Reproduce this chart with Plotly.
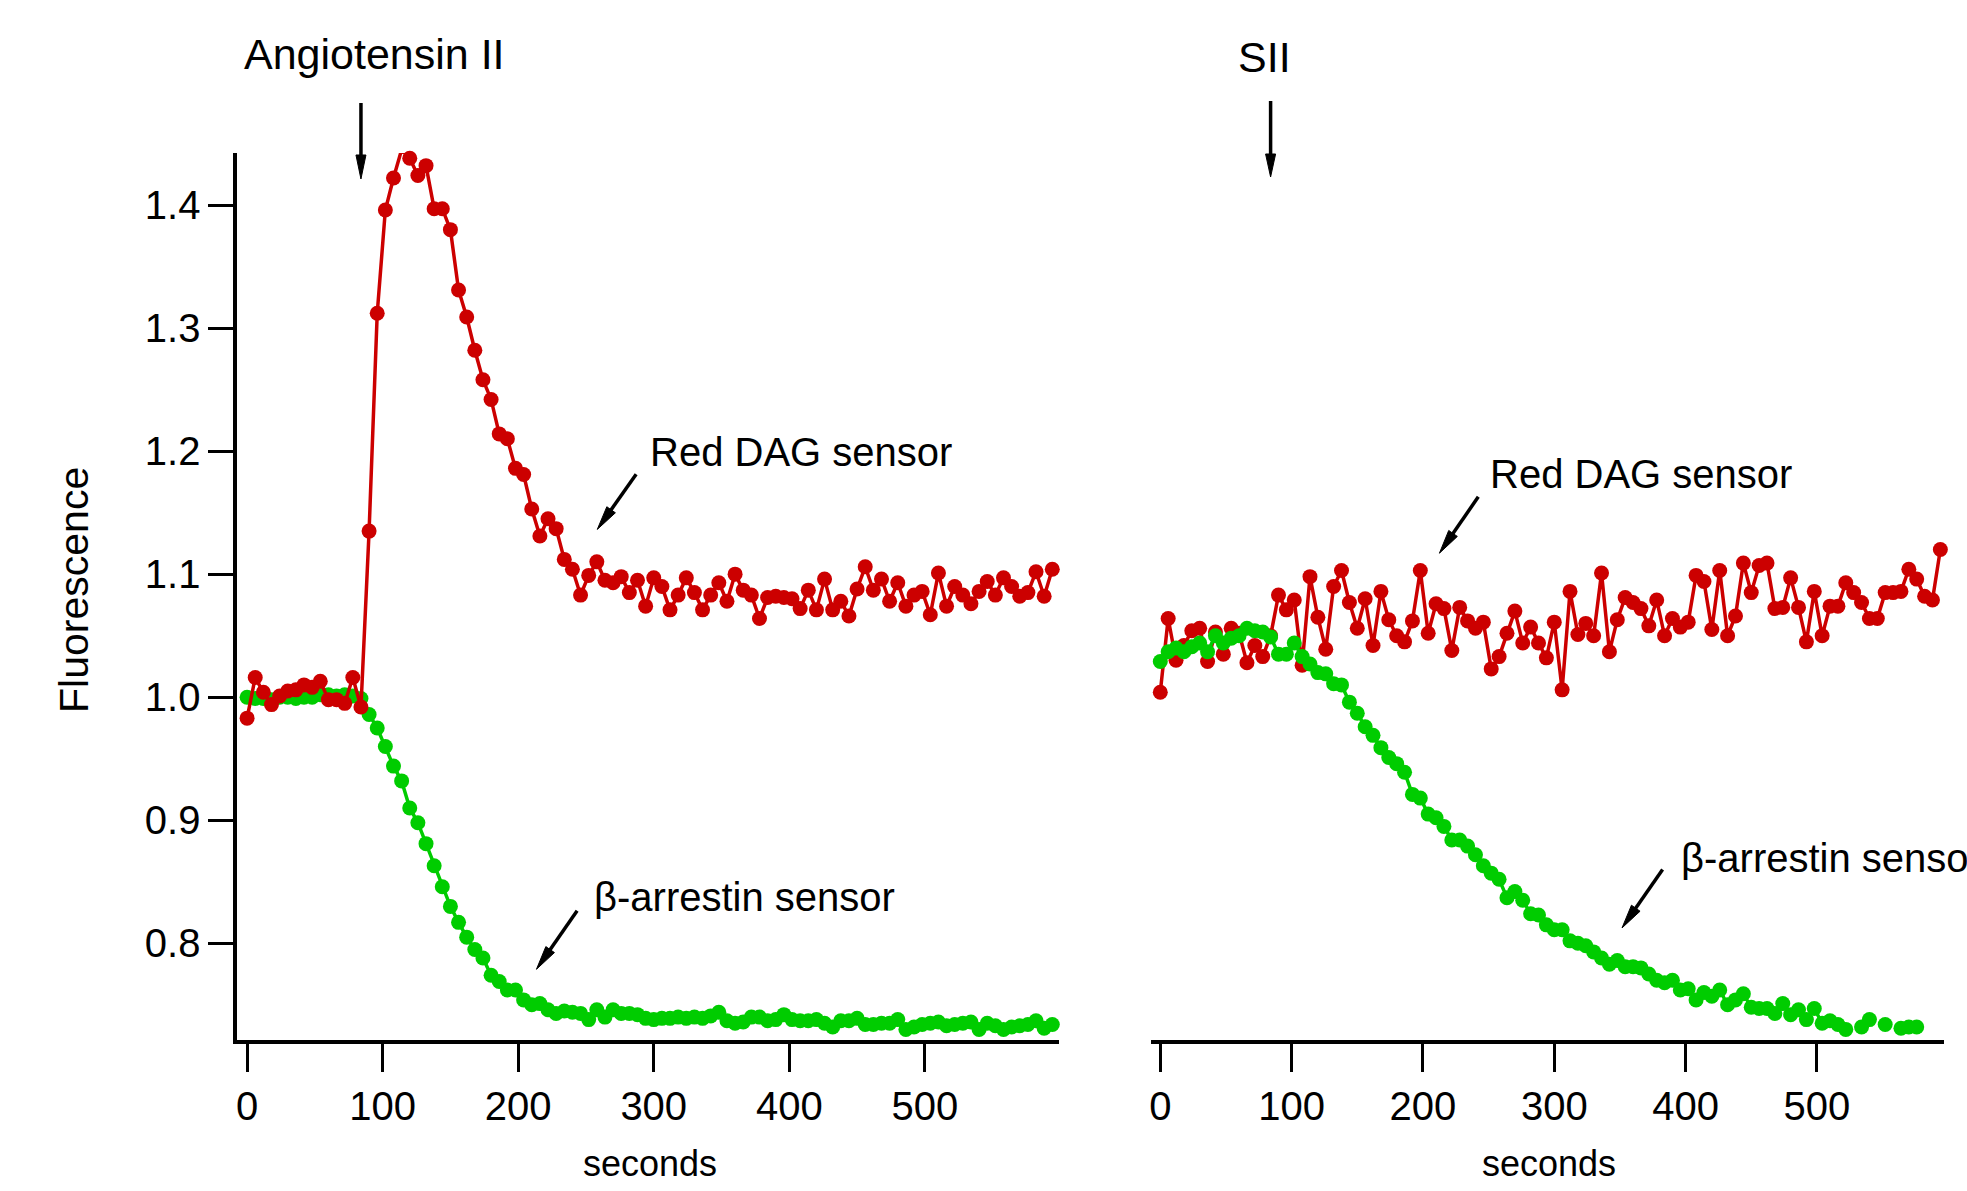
import math
import plotly.graph_objects as go

W, H = 1967, 1191

# Sampling grid: one reading every 6 s
seconds = list(range(0, 600, 6))

# Angiotensin II stimulation
ang_dag = [
    0.983, 1.016, 1.004, 0.994, 1.001, 1.005, 1.006, 1.010, 1.008, 1.013,
    0.998, 0.998, 0.995, 1.016, 0.992, 1.135, 1.312, 1.396, 1.422, 1.445,
    1.438, 1.424, 1.432, 1.397, 1.397, 1.380, 1.331, 1.309, 1.282, 1.258,
    1.242, 1.214, 1.210, 1.186, 1.181, 1.153, 1.131, 1.145, 1.137, 1.112,
    1.104, 1.083, 1.099, 1.110, 1.095, 1.093, 1.098, 1.085, 1.095, 1.074,
    1.097, 1.090, 1.071, 1.083, 1.097, 1.085, 1.071, 1.083, 1.093, 1.078,
    1.100, 1.087, 1.083, 1.064, 1.081, 1.082, 1.081, 1.080, 1.072, 1.087,
    1.071, 1.096, 1.071, 1.078, 1.066, 1.088, 1.106, 1.087, 1.096, 1.078,
    1.093, 1.074, 1.083, 1.086, 1.067, 1.101, 1.074, 1.090, 1.083, 1.076,
    1.086, 1.094, 1.083, 1.097, 1.090, 1.082, 1.085, 1.102, 1.082, 1.104,
]
ang_arrestin = [
    1.000, 0.999, 0.999, 0.998, 1.000, 1.000, 0.999, 1.000, 1.000, 1.002,
    1.002, 1.001, 1.002, 1.001, 0.999, 0.986, 0.975, 0.960, 0.944, 0.932,
    0.910, 0.898, 0.881, 0.863, 0.846, 0.830, 0.817, 0.805, 0.795, 0.788,
    0.774, 0.769, 0.762, 0.762, 0.754, 0.750, 0.751, 0.746, 0.743, 0.745,
    0.744, 0.743, 0.738, 0.746, 0.740, 0.746, 0.743, 0.743, 0.742, 0.739,
    0.738, 0.739, 0.739, 0.740, 0.739, 0.740, 0.739, 0.741, 0.744, 0.737,
    0.735, 0.736, 0.740, 0.740, 0.737, 0.738, 0.742, 0.738, 0.737, 0.737,
    0.738, 0.735, 0.732, 0.737, 0.737, 0.739, 0.734, 0.734, 0.735, 0.735,
    0.738, 0.730, 0.732, 0.734, 0.735, 0.736, 0.733, 0.734, 0.735, 0.736,
    0.730, 0.735, 0.733, 0.730, 0.732, 0.733, 0.734, 0.737, 0.731, 0.734,
]

# SII stimulation
sii_dag = [
    1.004, 1.064, 1.030, 1.042, 1.054, 1.056, 1.029, 1.053, 1.035, 1.056,
    1.052, 1.028, 1.042, 1.033, 1.050, 1.083, 1.071, 1.079, 1.026, 1.098,
    1.065, 1.039, 1.090, 1.103, 1.077, 1.056, 1.080, 1.042, 1.086, 1.063,
    1.050, 1.045, 1.062, 1.103, 1.052, 1.076, 1.072, 1.038, 1.073, 1.062,
    1.056, 1.061, 1.023, 1.033, 1.052, 1.070, 1.044, 1.057, 1.044, 1.032,
    1.061, 1.006, 1.086, 1.051, 1.060, 1.050, 1.101, 1.037, 1.063, 1.081,
    1.077, 1.072, 1.058, 1.079, 1.050, 1.064, 1.057, 1.061, 1.099, 1.094,
    1.055, 1.103, 1.050, 1.066, 1.109, 1.085, 1.107, 1.109, 1.072, 1.073,
    1.097, 1.073, 1.045, 1.086, 1.050, 1.074, 1.074, 1.093, 1.085, 1.077,
    1.064, 1.064, 1.085, 1.085, 1.086, 1.104, 1.096, 1.082, 1.079, 1.120,
]
# missing readings are left as None
sii_arrestin = [
    1.029, 1.037, 1.040, 1.037, 1.041, 1.044, 1.037, 1.050, 1.044, 1.048,
    1.050, 1.056, 1.054, 1.053, 1.049, 1.035, 1.035, 1.044, 1.033, 1.027,
    1.020, 1.019, 1.011, 1.010, 0.996, 0.987, 0.976, 0.969, 0.959, 0.951,
    0.946, 0.939, 0.921, 0.918, 0.905, 0.902, 0.895, 0.884, 0.884, 0.879,
    0.872, 0.863, 0.857, 0.852, 0.837, 0.842, 0.835, 0.824, 0.823, 0.815,
    0.811, 0.811, 0.802, 0.800, 0.798, 0.793, 0.788, 0.783, 0.786, 0.781,
    0.781, 0.780, 0.775, 0.770, 0.768, 0.770, 0.762, 0.763, 0.754, 0.760,
    0.757, 0.762, 0.750, 0.754, 0.759, 0.748, 0.747, 0.747, 0.743, 0.751,
    0.742, 0.746, 0.738, 0.747, 0.735, 0.737, 0.734, 0.730, None, 0.732,
    0.738, None, 0.734, None, 0.731, 0.732, 0.732,
]
sii_arrestin_seconds = seconds[:len(sii_arrestin)]

stimulus_time = 84

x_tick_vals = [0, 100, 200, 300, 400, 500]
y_tick_vals = [0.8, 0.9, 1.0, 1.1, 1.2, 1.3, 1.4]
y_tick_text = ["0.8", "0.9", "1.0", "1.1", "1.2", "1.3", "1.4"]

RED = "#cc0000"
GREEN = "#00cc00"
FONT = "Liberation Sans, Arial, Helvetica, sans-serif"

# panel geometry
X1_DOMAIN = [235.7 / W, 1057.6 / W]
X2_DOMAIN = [1150 / W, 1944 / W]
Y_DOMAIN = [(H - 1040) / H, (H - 153) / H]
X1_RANGE = [-7.1, 598.6]
X2_RANGE = [-7.2, 596.8]
Y_RANGE = [0.7214, 1.4423]


def series(x, y, color, xaxis):
    return go.Scatter(
        x=x, y=y, mode="lines+markers", xaxis=xaxis, yaxis="y",
        line=dict(color=color, width=3.5),
        marker=dict(color=color, size=15),
        cliponaxis=False, showlegend=False, hoverinfo="x+y",
    )


fig = go.Figure()
fig.add_trace(series(seconds, ang_arrestin, GREEN, "x"))
fig.add_trace(series(seconds, ang_dag, RED, "x"))
fig.add_trace(series(seconds, sii_dag, RED, "x2"))
fig.add_trace(series(sii_arrestin_seconds, sii_arrestin, GREEN, "x2"))

axis_common = dict(
    showgrid=False, zeroline=False,
    showline=True, linecolor="black", linewidth=4,
    ticks="outside", ticklen=28, tickwidth=3, tickcolor="black",
    tickvals=x_tick_vals,
    tickfont=dict(family=FONT, size=40, color="black"),
)

fig.update_layout(
    width=W, height=H,
    margin=dict(l=0, r=0, t=0, b=0),
    paper_bgcolor="white", plot_bgcolor="white",
    xaxis=dict(domain=X1_DOMAIN, range=X1_RANGE, anchor="y", **axis_common),
    xaxis2=dict(domain=X2_DOMAIN, range=X2_RANGE, anchor="y", **axis_common),
    yaxis=dict(
        domain=Y_DOMAIN, range=Y_RANGE, anchor="x",
        showgrid=False, zeroline=False,
        showline=True, linecolor="black", linewidth=4,
        ticks="outside", ticklen=25, tickwidth=3, tickcolor="black",
        tickvals=y_tick_vals, ticktext=y_tick_text,
        tickfont=dict(family=FONT, size=40, color="black"),
    ),
)


def to_paper(px, py):
    return px / W, 1 - py / H


def data_x_to_px(xv, domain, rng):
    frac = (xv - rng[0]) / (rng[1] - rng[0])
    return (domain[0] + frac * (domain[1] - domain[0])) * W


shapes = []


def arrow(x0, y0, x1, y1, head_len=24, head_w=10.5, width=3.5):
    """Arrow drawn in pixel space from (x0, y0) to the tip (x1, y1)."""
    dx, dy = x1 - x0, y1 - y0
    L = math.hypot(dx, dy)
    ux, uy = dx / L, dy / L
    bx, by = x1 - ux * head_len, y1 - uy * head_len
    nx, ny = -uy, ux
    a = to_paper(x0, y0)
    b = to_paper(bx + ux * 2, by + uy * 2)
    shapes.append(dict(type="line", xref="paper", yref="paper",
                       x0=a[0], y0=a[1], x1=b[0], y1=b[1],
                       line=dict(color="black", width=width)))
    p1 = to_paper(x1, y1)
    p2 = to_paper(bx + nx * head_w / 2, by + ny * head_w / 2)
    p3 = to_paper(bx - nx * head_w / 2, by - ny * head_w / 2)
    path = "M {:.5f} {:.5f} L {:.5f} {:.5f} L {:.5f} {:.5f} Z".format(
        p1[0], p1[1], p2[0], p2[1], p3[0], p3[1])
    shapes.append(dict(type="path", xref="paper", yref="paper", path=path,
                       fillcolor="black", line=dict(color="black", width=1)))


# stimulus arrows at the time of agonist addition
ax1 = data_x_to_px(stimulus_time, X1_DOMAIN, X1_RANGE)
ax2 = data_x_to_px(stimulus_time, X2_DOMAIN, X2_RANGE)
arrow(ax1, 103, ax1, 179, head_len=24, head_w=10)
arrow(ax2, 101, ax2, 177, head_len=23, head_w=10)

# label pointers
arrow(634.8, 474.2, 595.9, 529.4)
arrow(575.7, 910.7, 535.0, 969.3)
arrow(1477.8, 496.8, 1438.9, 553.2)
arrow(1662.3, 869.6, 1621.7, 927.9)

fig.update_layout(shapes=shapes)

annotations = []


def label(text, px, py, size, xanchor="center", angle=0):
    x, y = to_paper(px, py)
    annotations.append(dict(
        text=text, x=x, y=y, xref="paper", yref="paper",
        xanchor=xanchor, yanchor="middle", showarrow=False, textangle=angle,
        font=dict(family=FONT, size=size, color="black"),
    ))


label("Angiotensin II", 372.8, 54, 43)
label("SII", 1263.3, 57, 43)
label("Red DAG sensor", 647, 452, 40, xanchor="left")
label("β-arrestin sensor", 591, 897, 40, xanchor="left")
label("Red DAG sensor", 1488, 474, 40, xanchor="left")
label("β-arrestin sensor", 1678.5, 858, 40, xanchor="left")
label("seconds", 648.6, 1163, 36)
label("seconds", 1549, 1163, 36)
label("Fluorescence", 72, 590, 41, angle=-90)

fig.update_layout(annotations=annotations)

fig.write_html("out.html")
